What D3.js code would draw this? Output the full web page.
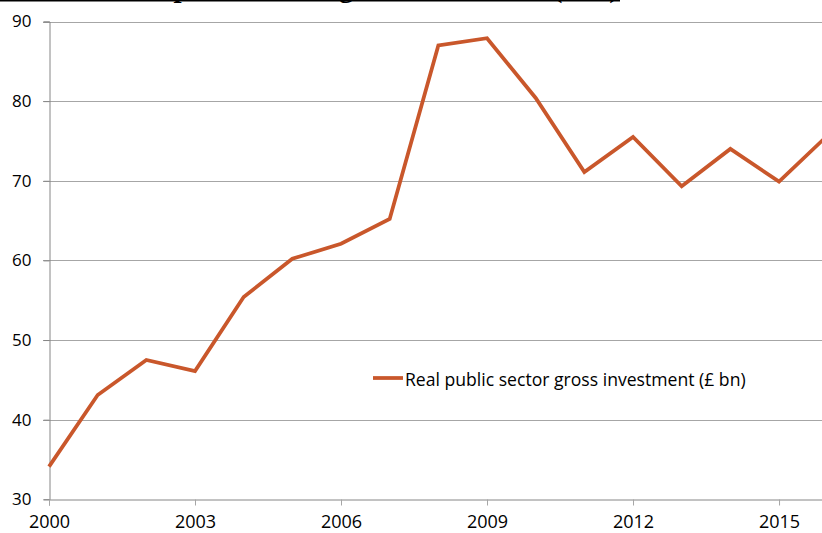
<!DOCTYPE html>
<html><head><meta charset="utf-8">
<script src="https://cdn.jsdelivr.net/npm/d3@7"></script>
<style>body{margin:0;background:#fff}svg{display:block}</style>
</head><body>
<script>
const years = [2000,2001,2002,2003,2004,2005,2006,2007,2008,2009,2010,2011,2012,2013,2014,2015,2016];
const investment = [34.1,43.1,47.5,46.1,55.4,60.2,62.1,65.2,87.0,87.9,80.4,71.1,75.5,69.3,74.0,69.9,75.7];
const yTicks = [30,40,50,60,70,80,90];
const xTicks = [2000,2003,2006,2009,2012,2015];
const seriesName = "Real public sector gross investment (£ bn)";
const titleText = "Real public sector gross investment (£bn)";

const W = 822, H = 533;
const svg = d3.select("body").append("svg").attr("width", W).attr("height", H);
const x = d3.scaleLinear().domain([2000, 2016]).range([49, 827.7]);
const y = d3.scaleLinear().domain([30, 90]).range([499.3, 21.5]);
const font = "'Open Sans', sans-serif";

// clipped title at top (only descenders visible)
svg.append("text").attr("x", 110).attr("y", -3.5)
  .attr("font-family", "'Liberation Serif', serif").attr("font-weight", "bold")
  .attr("font-size", 29).attr("fill", "#000").text(titleText);
svg.append("line").attr("x1", 0).attr("x2", 620).attr("y1", 0.5).attr("y2", 0.5)
  .attr("stroke", "#000").attr("stroke-width", 2);

// gridlines
svg.append("g").selectAll("line").data(yTicks.filter(d => d > 30)).join("line")
  .attr("x1", 43).attr("x2", W).attr("y1", d => Math.round(y(d)) + 0.5).attr("y2", d => Math.round(y(d)) + 0.5)
  .attr("stroke", "#a6a6a6").attr("stroke-width", 1);

// y axis
const yAxis = svg.append("g").attr("transform", "translate(49.5,0)")
  .call(d3.axisLeft(y).tickValues(yTicks).tickSize(6).tickPadding(12).tickFormat(d3.format("d")));
yAxis.select(".domain").attr("stroke", "#868686");
yAxis.selectAll(".tick line").attr("stroke", "#868686");
yAxis.selectAll("text").attr("font-family", font).attr("font-size", 17).attr("fill", "#000");

// x axis
const xAxis = svg.append("g").attr("transform", `translate(0,${Math.round(y(30)) + 0.5})`)
  .call(d3.axisBottom(x).tickValues(xTicks).tickSize(6).tickPadding(10).tickFormat(d3.format("d")));
xAxis.select(".domain").attr("stroke", "#868686");
xAxis.selectAll(".tick line").attr("stroke", "#a6a6a6");
xAxis.selectAll("text").attr("font-family", font).attr("font-size", 18).attr("fill", "#000");

// line
const line = d3.line().x((d, i) => x(years[i])).y(d => y(d));
svg.append("path").datum(investment).attr("d", line)
  .attr("fill", "none").attr("stroke", "#c9572b").attr("stroke-width", 3.75)
  .attr("stroke-linejoin", "miter");

// legend
const lg = svg.append("g").attr("transform", "translate(373,378)");
lg.append("line").attr("x1", 0).attr("x2", 30).attr("y1", 0).attr("y2", 0)
  .attr("stroke", "#c9572b").attr("stroke-width", 3.75);
lg.append("text").attr("x", 32).attr("y", 8).attr("font-family", font).attr("font-size", 17.6)
  .attr("fill", "#000").text(seriesName);
</script>
</body></html>
